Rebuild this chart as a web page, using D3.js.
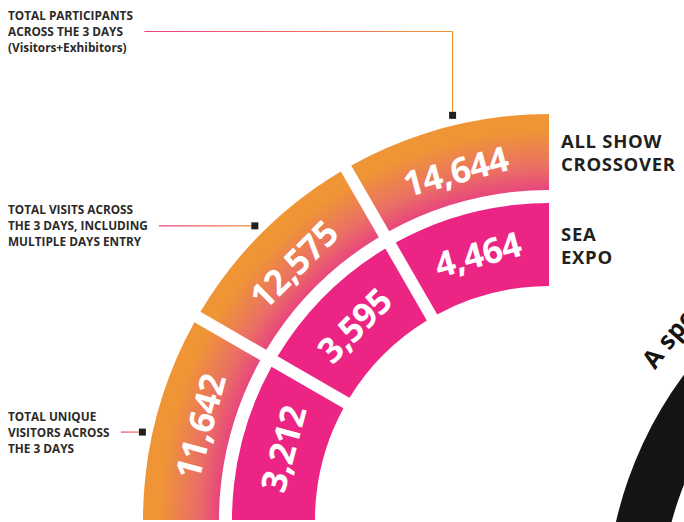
<!DOCTYPE html>
<html>
<head>
<meta charset="utf-8">
<script src="https://cdn.jsdelivr.net/npm/d3@7"></script>
<style>
body { margin: 0; background: #fff; }
svg { display: block; font-family: "Open Sans", sans-serif; }
</style>
</head>
<body>
<div id="chart"></div>
<script>
// data
const days = ['unique', 'visits', 'participants'];
const crossoverValues = [11642, 12575, 14644];
const seaExpoValues = [3212, 3595, 4464];
const seriesLabels = [['ALL SHOW', 'CROSSOVER'], ['SEA', 'EXPO']];
const dayLabels = [
    ['TOTAL UNIQUE', 'VISITORS ACROSS', 'THE 3 DAYS'],
    ['TOTAL VISITS ACROSS', 'THE 3 DAYS, INCLUDING', 'MULTIPLE DAYS ENTRY'],
    ['TOTAL PARTICIPANTS', 'ACROSS THE 3 DAYS', '(Visitors+Exhibitors)']
];
const teaser = 'A special thanks';

const width = 684, height = 522;
const cx = 549, cy = 520;
const toRad = Math.PI / 180;

const svg = d3.select('#chart').append('svg')
    .attr('width', width)
    .attr('height', height);
const defs = svg.append('defs');

// gradient lives in the translated ring group, so centre is 0,0
const rg = defs.append('radialGradient')
    .attr('id', 'ringGrad')
    .attr('gradientUnits', 'userSpaceOnUse')
    .attr('cx', 0).attr('cy', 0).attr('r', 406);
rg.append('stop').attr('offset', 328 / 406).attr('stop-color', '#e8437f');
rg.append('stop').attr('offset', 0.87).attr('stop-color', '#ea7064');
rg.append('stop').attr('offset', 0.96).attr('stop-color', '#ef9536');

defs.append('clipPath').attr('id', 'quarter')
    .append('rect').attr('x', 0).attr('y', 0).attr('width', cx).attr('height', cy);

// angle scale: one band per day
const angle = d3.scaleBand()
    .domain(days)
    .range([-Math.PI / 2, 0]);
const bw = angle.bandwidth();

const rings = [
    {values: crossoverValues, r0: 330, r1: 406, textR: 361, fill: 'url(#ringGrad)', labels: seriesLabels[0]},
    {values: seaExpoValues, r0: 234, r1: 317, textR: 275, fill: '#ec2584', labels: seriesLabels[1]}
];

const gap = 12;
const arc = d3.arc()
    .padRadius(400)
    .padAngle(2 * Math.asin(gap / 2 / 400));

const fmt = d3.format(',');

const g = svg.append('g').attr('clip-path', 'url(#quarter)');

rings.forEach(ring => {
    const segs = days.map((d, i) => {
        let a0 = angle(d), a1 = a0 + bw;
        if (i === 0) a0 -= 0.3;
        if (i === days.length - 1) a1 += 0.3;
        return {day: d, value: ring.values[i], innerRadius: ring.r0, outerRadius: ring.r1, startAngle: a0, endAngle: a1};
    });

    g.append('g')
        .attr('transform', `translate(${cx},${cy})`)
        .selectAll('path')
        .data(segs)
        .enter()
        .append('path')
        .attr('d', arc)
        .attr('fill', ring.fill);

    svg.append('g')
        .selectAll('text')
        .data(segs)
        .enter()
        .append('text')
        .attr('transform', d => {
            const mid = angle(d.day) + bw / 2;
            const x = cx + ring.textR * Math.sin(mid);
            const y = cy - ring.textR * Math.cos(mid);
            return `translate(${x},${y}) rotate(${mid / toRad})`;
        })
        .attr('text-anchor', 'middle')
        .attr('dy', '0.36em')
        .attr('fill', '#fff')
        .attr('font-size', 35)
        .attr('font-weight', 700)
        .attr('letter-spacing', -0.5)
        .text(d => fmt(d.value));

    // series label at right of ring, one text per line
    const mid = cy - (ring.r0 + ring.r1) / 2;
    svg.append('g')
        .selectAll('text')
        .data(ring.labels)
        .enter()
        .append('text')
        .attr('x', cx + 12)
        .attr('y', (d, i) => mid - 4 + i * 23)
        .attr('font-size', 18.5)
        .attr('font-weight', 700)
        .attr('letter-spacing', 0.7)
        .attr('fill', '#231f20')
        .text(d => d);
});

// annotations for each day
const leaderAngles = [-77.8, -45, -13.4];
const leaderElbowY = [null, null, 31.5];
const leaderR = 416;

dayLabels.forEach((lines, i) => {
    const a = leaderAngles[i] * toRad;
    const ax = cx + leaderR * Math.sin(a);
    const ay = cy - leaderR * Math.cos(a);
    const ly = leaderElbowY[i] == null ? ay : leaderElbowY[i];

    const label = svg.append('g')
        .attr('font-size', 11.8)
        .attr('font-weight', 700)
        .attr('fill', '#2b2a29');
    label.selectAll('text')
        .data(lines)
        .enter()
        .append('text')
        .attr('x', 8)
        .attr('y', (d, j) => ly + 4.5 + (j - 1) * 16)
        .text(d => d);

    const x0 = label.node().getBBox().width + 8 + 11;

    const grad = defs.append('linearGradient')
        .attr('id', 'lead' + i)
        .attr('gradientUnits', 'userSpaceOnUse')
        .attr('x1', x0).attr('y1', 0)
        .attr('x2', ax).attr('y2', 0);
    grad.append('stop').attr('offset', 0).attr('stop-color', '#e83e86');
    grad.append('stop').attr('offset', 1).attr('stop-color', '#ef9536');

    svg.append('line')
        .attr('x1', x0).attr('y1', ly)
        .attr('x2', ax).attr('y2', ly)
        .attr('stroke', `url(#lead${i})`)
        .attr('stroke-width', 1.2);

    if (ly !== ay) {
        svg.append('line')
            .attr('x1', ax).attr('y1', ly)
            .attr('x2', ax).attr('y2', ay)
            .attr('stroke', '#ef9536')
            .attr('stroke-width', 1.2);
    }

    svg.append('rect')
        .attr('x', ax - 3.5)
        .attr('y', ay - 3.5)
        .attr('width', 7)
        .attr('height', 7)
        .attr('fill', '#231f20');
});

// black ring of the next panel, peeking in at the right
const bc = {x: 1000, y: 610};
svg.append('path')
    .attr('transform', `translate(${bc.x},${bc.y})`)
    .attr('d', d3.arc()({innerRadius: 340, outerRadius: 394, startAngle: -110 * toRad, endAngle: -20 * toRad}))
    .attr('fill', '#161413');

const tr = 420, ta0 = -55.2 * toRad, ta1 = 10 * toRad;
defs.append('path')
    .attr('id', 'teaserPath')
    .attr('d', `M${bc.x + tr * Math.sin(ta0)},${bc.y - tr * Math.cos(ta0)} A${tr},${tr} 0 0 1 ${bc.x + tr * Math.sin(ta1)},${bc.y - tr * Math.cos(ta1)}`);

svg.append('text')
    .attr('font-size', 25)
    .attr('font-weight', 700)
    .attr('fill', '#161413')
    .append('textPath')
    .attr('href', '#teaserPath')
    .text(teaser);
</script>
</body>
</html>
